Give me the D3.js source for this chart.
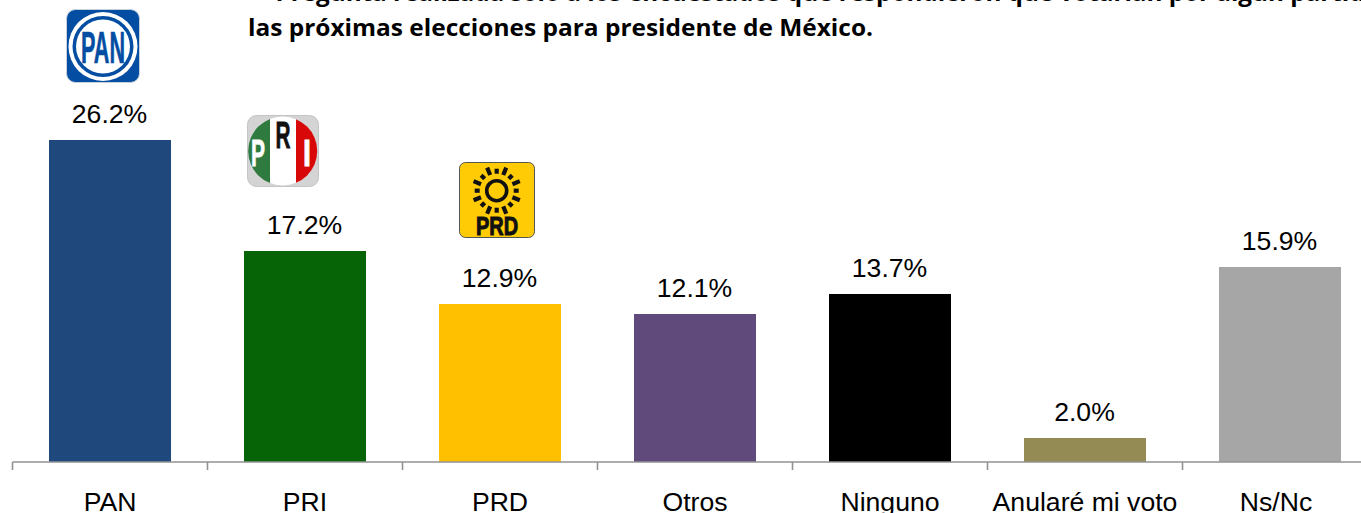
<!DOCTYPE html>
<html><head><meta charset="utf-8">
<style>html,body{margin:0;padding:0;background:#fff;overflow:hidden}svg{display:block}</style>
<script src="https://cdn.jsdelivr.net/npm/d3@7/dist/d3.min.js"></script>
</head><body><svg id="c" width="1361" height="513"></svg>
<script>
const categories = ["PAN","PRI","PRD","Otros","Ninguno","Anularé mi voto","Ns/Nc"];
const values = [26.2,17.2,12.9,12.1,13.7,2.0,15.9];
const colors = ["#1F497D","#066406","#FFC000","#604A7B","#000000","#948A54","#A6A6A6"];
const titleLines = ["* Pregunta realizada solo a los encuestados que respondieron que votarían por algún partido en","las próximas elecciones para presidente de México."];

const svg = d3.select("#c");
const font = "'Liberation Sans',Arial,sans-serif";
const narrow = "'Liberation Sans Narrow','Liberation Sans',sans-serif";
const axisY = 462;
const x = d3.scaleBand().domain(categories).range([12.5,1377.5]);
const y = d3.scaleLinear().domain([0,26.2]).range([462.4,140]);
const barW = 122;
const barTop = v => Math.round(y(v));

// title
svg.selectAll("text.title").data(titleLines).join("text").attr("class","title")
  .attr("x",(d,i)=>i?248:256).attr("y",(d,i)=>i?36:1)
  .attr("font-family","'Open Sans',sans-serif").attr("font-weight",700).attr("font-size",24)
  .attr("fill","#000").attr("textLength",(d,i)=>i?625:1160).attr("lengthAdjust","spacingAndGlyphs")
  .text(d=>d);

// bars
svg.selectAll("rect.bar").data(categories).join("rect").attr("class","bar")
  .attr("x",d=>x(d)+x.bandwidth()/2-barW/2).attr("width",barW)
  .attr("y",(d,i)=>barTop(values[i])).attr("height",(d,i)=>axisY-barTop(values[i]))
  .attr("fill",(d,i)=>colors[i]);

// axis
const axis = d3.axisBottom(x).tickSize(0);
const g = svg.append("g").attr("transform",`translate(0,${axisY})`).call(axis);
g.select(".domain").remove();
g.selectAll("text").attr("font-family",font).attr("font-size",26.6).attr("fill","#000").attr("dy",0).attr("y",49)
  .attr("dx",d=>d==="Ns/Nc"?-4:0);
svg.append("line").attr("x1",12.5).attr("x2",1361).attr("y1",axisY).attr("y2",axisY).attr("stroke","#929292").attr("stroke-width",1.6);
svg.selectAll("line.t").data(categories).join("line").attr("class","t")
  .attr("x1",d=>x(d)).attr("x2",d=>x(d)).attr("y1",axisY).attr("y2",axisY+8)
  .attr("stroke","#929292").attr("stroke-width",1.6);

// value labels
svg.selectAll("text.v").data(categories).join("text").attr("class","v")
  .attr("x",d=>x(d)+x.bandwidth()/2-0.5).attr("y",(d,i)=>barTop(values[i])-17)
  .attr("text-anchor","middle").attr("font-family",font).attr("font-size",26.6).attr("fill","#000")
  .text((d,i)=>values[i].toFixed(1)+"%");

// logos
const pan = svg.append("g").attr("transform","translate(66,9)");
pan.append("rect").attr("x",.5).attr("y",.5).attr("width",73).attr("height",73).attr("rx",9).attr("fill","#034EA2").attr("stroke","#c8d0dc");
pan.append("circle").attr("cx",37).attr("cy",37.5).attr("r",34.5).attr("fill","#fff");
pan.append("circle").attr("cx",37).attr("cy",37.5).attr("r",30.5).attr("fill","#034EA2");
pan.append("circle").attr("cx",37).attr("cy",37.5).attr("r",27).attr("fill","#fff");
pan.append("text").attr("x",37).attr("y",53.5).attr("text-anchor","middle").attr("font-family",narrow).attr("font-weight",700)
  .attr("font-size",44).attr("fill","#034EA2").attr("stroke","#034EA2").attr("stroke-width",.6)
  .attr("textLength",44).attr("lengthAdjust","spacingAndGlyphs").text("PAN");

const pri = svg.append("g").attr("transform","translate(247,115)");
pri.append("rect").attr("x",.5).attr("y",.5).attr("width",71).attr("height",71).attr("rx",9).attr("fill","#d4d4d4").attr("stroke","#c4c4c4");
const defs = svg.append("defs");
defs.append("clipPath").attr("id","priClip").append("circle").attr("cx",35.7).attr("cy",36).attr("r",34.5);
const pc = pri.append("g").attr("clip-path","url(#priClip)");
pc.append("rect").attr("x",0).attr("y",0).attr("width",23).attr("height",72).attr("fill","#2F7A3E");
pc.append("rect").attr("x",23).attr("y",0).attr("width",26).attr("height",72).attr("fill","#fff");
pc.append("rect").attr("x",49).attr("y",0).attr("width",23).attr("height",72).attr("fill","#D80808");
[["P",11,51,"#fff",14],["R",36,33,"#111",15],["I",60,51,"#fff",8]].forEach(([t,a,b,c,w])=>{
  pri.append("text").attr("x",a).attr("y",b).attr("text-anchor","middle").attr("font-family",narrow)
    .attr("font-weight",700).attr("font-size",37).attr("fill",c).attr("stroke",c).attr("stroke-width",.8)
    .attr("textLength",w).attr("lengthAdjust","spacingAndGlyphs").text(t);
});

const prd = svg.append("g").attr("transform","translate(459,162)");
prd.append("rect").attr("x",.5).attr("y",.5).attr("width",75).attr("height",75).attr("rx",6).attr("fill","#FFCB05").attr("stroke","#555");
const ns = d3.range(16);
prd.selectAll("line.ray").data(ns).join("line").attr("class","ray")
  .attr("x1",d=>37.7+Math.cos(d*Math.PI/8)*17).attr("y1",d=>28.7+Math.sin(d*Math.PI/8)*17)
  .attr("x2",d=>37.7+Math.cos(d*Math.PI/8)*(d%2?25:22)).attr("y2",d=>28.7+Math.sin(d*Math.PI/8)*(d%2?25:22))
  .attr("stroke","#111").attr("stroke-width",4.2);
prd.append("circle").attr("cx",37.7).attr("cy",28.7).attr("r",10).attr("fill","none").attr("stroke","#111").attr("stroke-width",3.6);
prd.append("text").attr("x",38).attr("y",73).attr("text-anchor","middle").attr("font-family",font).attr("font-weight",700)
  .attr("font-size",25).attr("fill","#111").attr("stroke","#111").attr("stroke-width",1).attr("textLength",42).attr("lengthAdjust","spacingAndGlyphs").text("PRD");
</script></body></html>
